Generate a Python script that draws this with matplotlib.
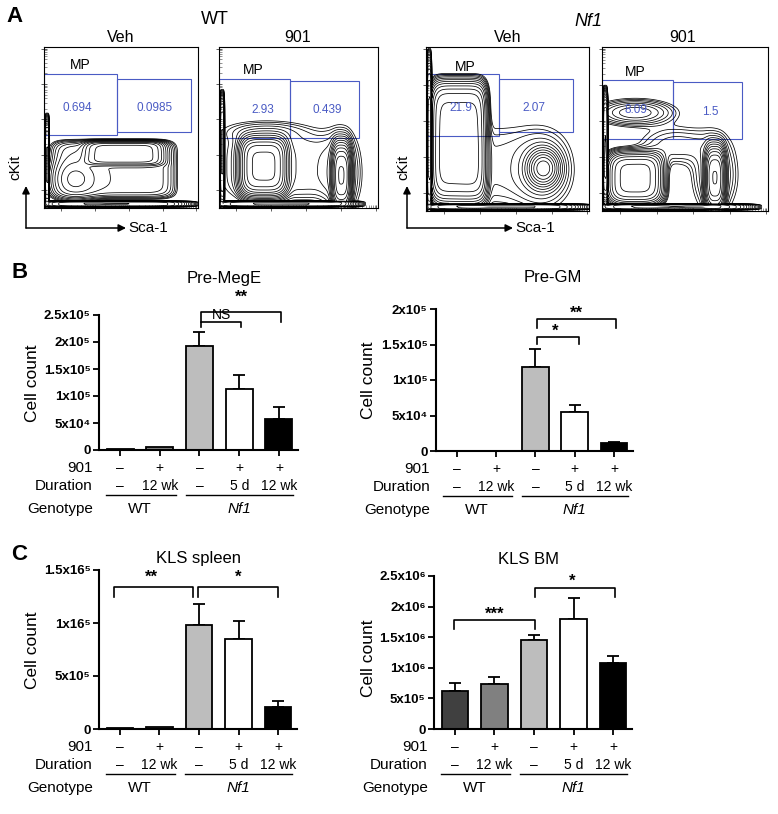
import numpy as np
import matplotlib
matplotlib.use('Agg')
import matplotlib.pyplot as plt
from matplotlib.patches import Rectangle
from matplotlib.transforms import blended_transform_factory

plt.rcParams['font.family'] = ['Liberation Sans', 'DejaVu Sans']

W, H = 778, 814
fig = plt.figure(figsize=(W / 100, H / 100), dpi=100)

# ---- data -------------------------------------------------------------
bar_colors = ['#404040', '#808080', '#bdbdbd', 'white', 'black']
drug = ['\u2013', '+', '\u2013', '+', '+']
duration = ['\u2013', '12 wk', '\u2013', '5 d', '12 wk']

premege_vals = [2500, 5500, 1.92e5, 1.13e5, 0.57e5]
premege_errs = [0, 0, 0.26e5, 0.26e5, 0.23e5]
premege_ticks = [0, 5e4, 1e5, 1.5e5, 2e5, 2.5e5]
premege_labels = ['0', '5x10\u2074', '1x10\u2075', '1.5x10\u2075', '2x10\u2075', '2.5x10\u2075']

pregm_vals = [300, 300, 1.18e5, 0.55e5, 0.11e5]
pregm_errs = [0, 0, 0.26e5, 0.10e5, 0.02e5]
pregm_ticks = [0, 5e4, 1e5, 1.5e5, 2e5]
pregm_labels = ['0', '5x10\u2074', '1x10\u2075', '1.5x10\u2075', '2x10\u2075']

spleen_vals = [0.012e6, 0.02e6, 0.98e6, 0.85e6, 0.21e6]
spleen_errs = [0, 0, 0.20e6, 0.17e6, 0.05e6]
spleen_ticks = [0, 5e5, 1e6, 1.5e6]
spleen_labels = ['0', '5x10\u2075', '1x16\u2075', '1.5x16\u2075']

bm_vals = [0.62e6, 0.735e6, 1.45e6, 1.80e6, 1.08e6]
bm_errs = [0.13e6, 0.115e6, 0.09e6, 0.34e6, 0.11e6]
bm_ticks = [0, 5e5, 1e6, 1.5e6, 2e6, 2.5e6]
bm_labels = ['0', '5x10\u2075', '1x10\u2076', '1.5x10\u2076', '2x10\u2076', '2.5x10\u2076']

# brackets: (x left, x right, y top, y left end, y right end)
premege_brackets = [(2.05, 4.05, 2.556e5, 2.37e5, 2.37e5), (2.05, 3.05, 2.37e5, 2.28e5, 2.28e5)]
premege_marks = [('**', 3.05, 2.83e5), ('NS', 2.55, 2.5e5)]
pregm_brackets = [(2.05, 4.05, 1.86e5, 1.73e5, 1.73e5), (2.05, 3.1, 1.605e5, 1.51e5, 1.51e5)]
pregm_marks = [('**', 3.05, 1.94e5), ('*', 2.5, 1.68e5)]
spleen_brackets = [(-0.15, 1.85, 1.34e6, 1.245e6, 1.245e6), (1.97, 4.0, 1.34e6, 1.245e6, 1.245e6)]
spleen_marks = [('**', 0.8, 1.43e6), ('*', 3.0, 1.43e6)]
bm_brackets = [(-0.03, 2.03, 1.78e6, 1.63e6, 1.63e6), (2.03, 4.05, 2.30e6, 2.16e6, 2.16e6)]
bm_marks = [('***', 1.0, 1.88e6), ('*', 2.97, 2.42e6)]

# flow populations: (cx, cy, sx, sy, amplitude, boxiness)
wt_veh_pops = [(0.02, 0.28, 0.012, 0.24, 3.0, 6), (0.45, 0.025, 0.43, 0.015, 3.0, 6),
               (0.45, 0.24, 0.38, 0.17, 0.25, 8), (0.52, 0.34, 0.24, 0.07, 0.8, 6),
               (0.20, 0.18, 0.12, 0.10, 0.3, 2)]
wt_901_pops = [(0.02, 0.35, 0.012, 0.30, 3.0, 6), (0.40, 0.025, 0.40, 0.015, 3.0, 6),
               (0.40, 0.26, 0.36, 0.20, 0.10, 4), (0.28, 0.26, 0.13, 0.16, 1.2, 4),
               (0.77, 0.20, 0.05, 0.17, 1.5, 3), (0.77, 0.22, 0.10, 0.22, 0.15, 2),
               (0.30, 0.48, 0.25, 0.06, 0.08, 2)]
nf1_veh_pops = [(0.02, 0.45, 0.012, 0.42, 3.0, 6), (0.45, 0.025, 0.45, 0.015, 3.0, 6),
                (0.20, 0.42, 0.16, 0.34, 1.0, 6), (0.72, 0.26, 0.07, 0.08, 1.0, 2),
                (0.72, 0.25, 0.14, 0.18, 0.12, 2), (0.45, 0.28, 0.38, 0.25, 0.06, 3)]
nf1_901_pops = [(0.02, 0.38, 0.012, 0.30, 3.0, 6), (0.42, 0.025, 0.42, 0.015, 3.0, 6),
                (0.20, 0.20, 0.15, 0.14, 1.0, 4), (0.68, 0.20, 0.05, 0.16, 1.5, 3),
                (0.68, 0.22, 0.11, 0.20, 0.15, 2), (0.20, 0.60, 0.18, 0.06, 0.25, 2),
                (0.45, 0.40, 0.20, 0.10, 0.1, 2)]

# gates: (x0, y0, x1, y1) in axes fraction, plus value labels
wt_veh_gates = [(0, 0.453, 0.474, 0.832), (0.474, 0.472, 0.955, 0.801)]
wt_veh_text = [('0.694', 0.214, 0.621), ('0.0985', 0.72, 0.621), ('MP', 0.234, 0.888)]
wt_901_gates = [(0, 0.435, 0.447, 0.80), (0.447, 0.435, 0.88, 0.79)]
wt_901_text = [('2.93', 0.277, 0.609), ('0.439', 0.68, 0.609), ('MP', 0.214, 0.857)]
nf1_veh_gates = [(0, 0.457, 0.448, 0.835), (0.448, 0.482, 0.902, 0.805)]
nf1_veh_text = [('21.9', 0.215, 0.628), ('2.07', 0.663, 0.628), ('MP', 0.239, 0.878)]
nf1_901_gates = [(0, 0.44, 0.428, 0.80), (0.428, 0.44, 0.843, 0.787)]
nf1_901_text = [('8.09', 0.205, 0.616), ('1.5', 0.65, 0.604), ('MP', 0.199, 0.848)]


def px_axes(x0, y0, x1, y1):
    return fig.add_axes([x0 / W, 1 - y1 / H, (x1 - x0) / W, (y1 - y0) / H])


def flow_panel(rect, pops, gates, texts):
    ax = px_axes(*rect)
    g = np.linspace(0, 1, 300)
    X, Y = np.meshgrid(g, g)
    Z = np.zeros_like(X)
    for cx, cy, sx, sy, amp, p in pops:
        Z += amp * np.exp(-(np.abs((X - cx) / sx) ** p + np.abs((Y - cy) / sy) ** p))
    ax.contour(X, Y, Z, levels=np.geomspace(0.03, 3, 16), colors='black', linewidths=0.55)
    for x0, y0, x1, y1 in gates:
        ax.add_patch(Rectangle((x0, y0), x1 - x0, y1 - y0, fill=False, ec='#4a5bc4', lw=0.8))
    for s, tx, ty in texts:
        col = 'black' if s == 'MP' else '#4a5bc4'
        fs = 10 if s == 'MP' else 8.5
        ax.text(tx, ty, s, color=col, fontsize=fs, ha='center', va='center')
    ax.set_xlim(0, 1)
    ax.set_ylim(0, 1)
    decades = [0.11, 0.33, 0.55, 0.77, 0.99]
    minors = [d + 0.22 * np.log10(k) for d in decades[:-1] for k in range(2, 10)]
    for axis in (ax.xaxis, ax.yaxis):
        axis.set_ticks(decades)
        axis.set_ticks(minors, minor=True)
        axis.set_ticklabels([])
    ax.tick_params(which='major', direction='inout', length=4, width=0.6, color='#444444')
    ax.tick_params(which='minor', direction='in', length=2, width=0.5, color='#666666')
    for sp in ax.spines.values():
        sp.set_linewidth(0.8)
    return ax


def bar_panel(rect, vals, errs, ticks, labels, brackets, marks):
    ax = px_axes(*rect)
    x = np.arange(len(vals))
    ax.bar(x, vals, width=0.68, color=bar_colors, edgecolor='black', linewidth=1.3, zorder=2)
    e = np.array(errs)
    keep = e > 0
    ax.errorbar(x[keep], np.array(vals)[keep], yerr=[np.zeros(keep.sum()), e[keep]],
                fmt='none', ecolor='black', elinewidth=1.3, capsize=4.5, capthick=1.3, zorder=1)
    ax.set_xlim(-0.53, 4.48)
    ax.set_ylim(0, ticks[-1])
    ax.set_yticks(ticks)
    ax.set_yticklabels(labels, fontweight='bold', fontsize=9.5)
    ax.set_xticks(x)
    ax.set_xticklabels([])
    ax.spines['top'].set_visible(False)
    ax.spines['right'].set_visible(False)
    ax.spines['left'].set_linewidth(1.5)
    ax.spines['bottom'].set_linewidth(1.5)
    ax.tick_params(length=4, width=1.3, pad=2)

    for x0, x1, yt, yl, yr in brackets:
        ax.plot([x0, x0, x1, x1], [yl, yt, yt, yr], color='black', lw=1.2, clip_on=False)
    for s, tx, ty in marks:
        ax.text(tx, ty, s, ha='center', va='center', fontsize=10 if s == 'NS' else 12,
                fontweight='normal' if s == 'NS' else 'bold')

    h = rect[3] - rect[1]
    w = rect[2] - rect[0]
    trans = blended_transform_factory(ax.transData, ax.transAxes)
    rows = [(-18, drug), (-36, duration)]
    for dy, row in rows:
        for i, s in enumerate(row):
            ax.text(i, dy / h, s, transform=trans, ha='center', va='center', fontsize=10)
    for dy, lab in [(-18, '901'), (-36, 'Duration'), (-59, 'Genotype')]:
        ax.text(-6 / w, dy / h, lab, transform=ax.transAxes, ha='right', va='center', fontsize=11)
    ax.plot([-0.35, 1.4], [-45 / h] * 2, transform=trans, color='black', lw=1, clip_on=False)
    ax.plot([1.65, 4.35], [-45 / h] * 2, transform=trans, color='black', lw=1, clip_on=False)
    ax.text(0.5, -59 / h, 'WT', transform=trans, ha='center', va='center', fontsize=11)
    ax.text(3.0, -59 / h, 'Nf1', transform=trans, ha='center', va='center', fontsize=11,
            style='italic')
    return ax


# ---- panel A ----------------------------------------------------------
flow_panel((44, 47, 198, 208), wt_veh_pops, wt_veh_gates, wt_veh_text)
flow_panel((219, 47, 378, 208), wt_901_pops, wt_901_gates, wt_901_text)
flow_panel((426, 47, 589, 211), nf1_veh_pops, nf1_veh_gates, nf1_veh_text)
flow_panel((602, 47, 768, 211), nf1_901_pops, nf1_901_gates, nf1_901_text)

# ---- panels B, C ------------------------------------------------------
bar_panel((99, 315, 298, 450), premege_vals, premege_errs, premege_ticks, premege_labels,
          premege_brackets, premege_marks)
bar_panel((436, 309, 633, 451), pregm_vals, pregm_errs, pregm_ticks, pregm_labels,
          pregm_brackets, pregm_marks)
bar_panel((99, 570, 297, 729), spleen_vals, spleen_errs, spleen_ticks, spleen_labels,
          spleen_brackets, spleen_marks)
bar_panel((434, 576, 632, 729), bm_vals, bm_errs, bm_ticks, bm_labels,
          bm_brackets, bm_marks)

# ---- text and arrows in pixel space -----------------------------------
ov = fig.add_axes([0, 0, 1, 1])
ov.set_xlim(0, W)
ov.set_ylim(H, 0)
ov.axis('off')

for s, x, y in [('A', 15, 17), ('B', 20, 272), ('C', 19, 555)]:
    ov.text(x, y, s, fontsize=16, fontweight='bold', ha='center', va='center')

ov.text(215, 19, 'WT', fontsize=13, ha='center', va='center')
ov.text(588, 21, 'Nf1', fontsize=13, ha='center', va='center', style='italic')
for s, x in [('Veh', 121), ('901', 298), ('Veh', 508), ('901', 683)]:
    ov.text(x, 38, s, fontsize=11.5, ha='center', va='center')

for ax0, ax1, tx in [(26, 126, 15), (407, 513, 403)]:
    arrow = dict(arrowstyle='-|>', lw=1.1, color='black', mutation_scale=11,
                 shrinkA=0, shrinkB=0)
    ov.annotate('', xy=(ax0, 186), xytext=(ax0, 228), arrowprops=arrow)
    ov.annotate('', xy=(ax1, 228), xytext=(ax0, 228), arrowprops=arrow)
    ov.text(ax1 + 2, 228, 'Sca-1', fontsize=11, ha='left', va='center')
    ov.text(tx, 167, 'cKit', fontsize=11, rotation=90, ha='center', va='center')

for s, x, y in [('Pre-MegE', 224, 278), ('Pre-GM', 553, 277),
                ('KLS spleen', 199, 558), ('KLS BM', 529, 559)]:
    ov.text(x, y, s, fontsize=12, ha='center', va='center')

for x, y in [(33, 383), (369, 380), (33, 650), (369, 658)]:
    ov.text(x, y, 'Cell count', fontsize=12.5, rotation=90, ha='center', va='center')

fig.savefig('out.png', dpi=100)
